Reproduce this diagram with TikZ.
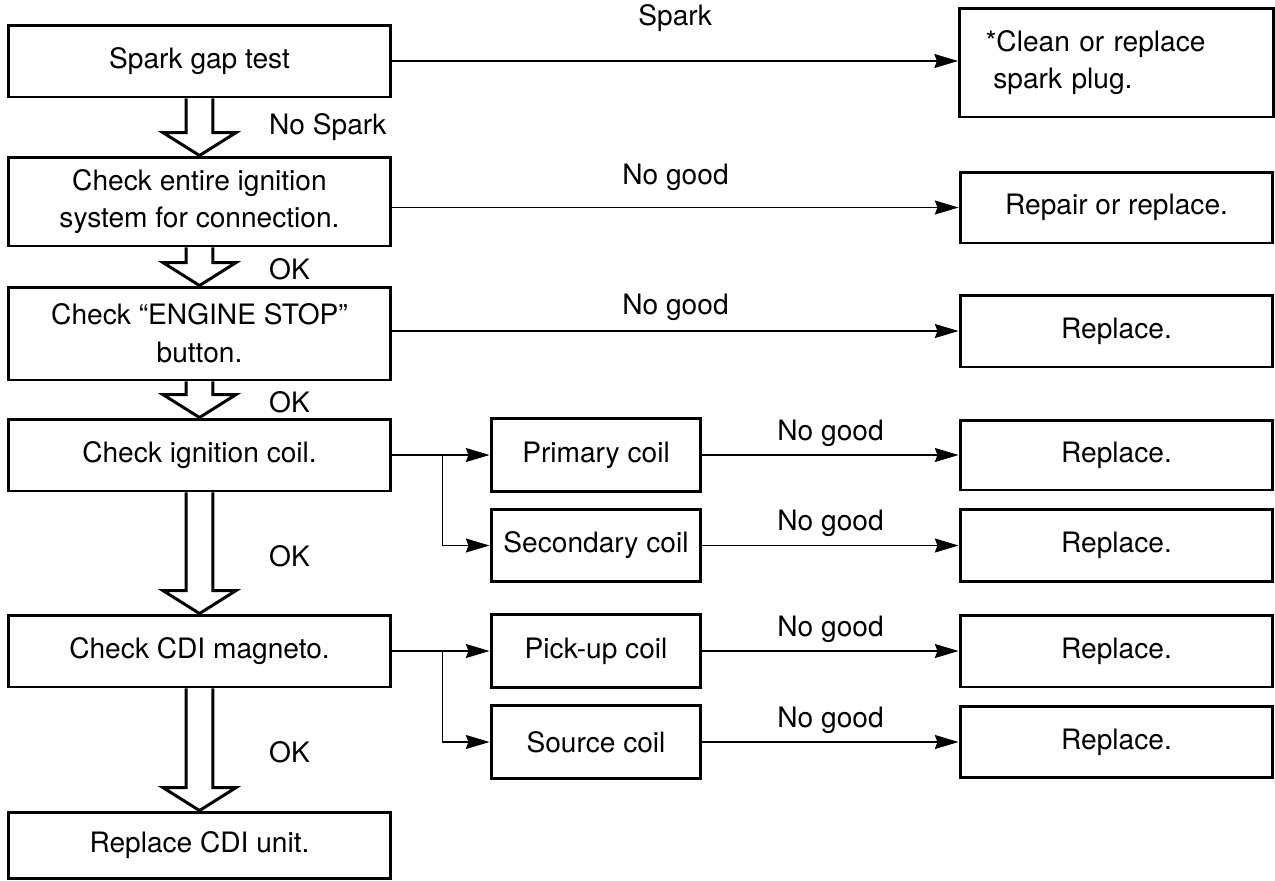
\documentclass[tikz,border=0pt]{standalone}
\usepackage{fontspec}
\setmainfont{TeX Gyre Heros}
\usetikzlibrary{arrows.meta,calc}

\tikzset{
  txt/.style={font=\fontsize{16}{21.5}\selectfont},
  box/.style={txt, draw, line width=1.7pt, inner sep=0pt, align=center},
  leftbox/.style={box, minimum width=7.66cm, minimum height=#1},
  midbox/.style={box, minimum width=4.2cm, minimum height=#1},
  rightbox/.style={box, minimum width=6.26cm, minimum height=#1},
  conn/.style={line width=0.6pt, -{Stealth[length=13.5pt,width=8pt,inset=1.5pt]}},
  fat/.style={line width=1.7pt, fill=white},
  lbl/.style={txt, midway, inner sep=0pt}
}

\begin{document}
\begin{tikzpicture}[x=0.02cm, y=-0.02cm]
  \useasboundingbox (0,0) rectangle (1275,880);

  % main column
  \node[leftbox=1.44cm] (L1) at (199.5,61) {Spark gap test};
  \node[leftbox=1.78cm] (L2) at (199.5,201.5) {Check entire ignition\\system for connection.};
  \node[leftbox=1.86cm] (L3) at (199.5,333.5) {Check “ENGINE STOP”\\button.};
  \node[leftbox=1.44cm] (L4) at (199.5,455) {Check ignition coil.};
  \node[leftbox=1.44cm] (L5) at (199.5,651) {Check CDI magneto.};
  \node[leftbox=1.32cm] (L6) at (199.5,845) {Replace CDI unit.};

  % coils
  \node[midbox=1.45cm] (M1) at (596,455) {Primary coil};
  \node[midbox=1.45cm] (M2) at (596,545.5) {Secondary coil};
  \node[midbox=1.45cm] (M3) at (596,651) {Pick-up coil};
  \node[midbox=1.45cm] (M4) at (596,742) {Source coil};

  % remedies
  \node[rightbox=2.18cm, align=left, text width=5.24cm, inner xsep=0.52cm] (R1) at (1116.5,62.5)
    {*Clean or replace\\\hspace*{0.278em}spark plug.};
  \node[rightbox=1.42cm] (R2) at (1116.5,207.5) {Repair or replace.};
  \node[rightbox=1.44cm] (R3) at (1116.5,331) {Replace.};
  \node[rightbox=1.40cm] (R4) at (1116.5,455) {Replace.};
  \node[rightbox=1.44cm] (R5) at (1116.5,545.5) {Replace.};
  \node[rightbox=1.44cm] (R6) at (1116.5,651) {Replace.};
  \node[rightbox=1.42cm] (R7) at (1116.5,742) {Replace.};

  % hollow arrows down the main column
  \foreach \a/\b in {L1/L2, L2/L3, L3/L4, L4/L5, L5/L6}
    \draw[fat] ([xshift=-7.65pt]\a.south) -- ([xshift=-7.65pt,yshift=13pt]\b.north)
      -- ([xshift=-20.7pt,yshift=13pt]\b.north) -- (\b.north)
      -- ([xshift=20.7pt,yshift=13pt]\b.north) -- ([xshift=7.65pt,yshift=13pt]\b.north)
      -- ([xshift=7.65pt]\a.south);

  \node[txt, anchor=west, xshift=1.27cm] at ($(L1.south)!.5!(L2.north)$) {No Spark};
  \foreach \a/\b in {L2/L3, L3/L4, L4/L5, L5/L6}
    \node[txt, anchor=west, xshift=1.27cm, yshift=-0.06cm] at ($(\a.south)!.5!(\b.north)$) {OK};

  % branches to the right
  \draw[conn] (L1.east) -- (L1.east -| R1.west) node[lbl, yshift=0.86cm] {Spark};
  \draw[conn] (L2.east |- R2.west) -- (R2.west) node[lbl, yshift=0.6cm] {No good};
  \draw[conn] (L3.east |- R3.west) -- (R3.west) node[lbl, yshift=0.48cm] {No good};

  \draw[conn] (L4.east) -- (M1.west);
  \draw[conn] ([xshift=1cm]L4.east) |- (M2.west);
  \draw[conn] (L5.east) -- (M3.west);
  \draw[conn] ([xshift=1cm]L5.east) |- (M4.west);

  \draw[conn] (M1.east) -- (R4.west) node[lbl, yshift=0.44cm] {No good};
  \draw[conn] (M2.east) -- (R5.west) node[lbl, yshift=0.44cm] {No good};
  \draw[conn] (M3.east) -- (R6.west) node[lbl, yshift=0.44cm] {No good};
  \draw[conn] (M4.east) -- (R7.west) node[lbl, yshift=0.44cm] {No good};
\end{tikzpicture}
\end{document}
